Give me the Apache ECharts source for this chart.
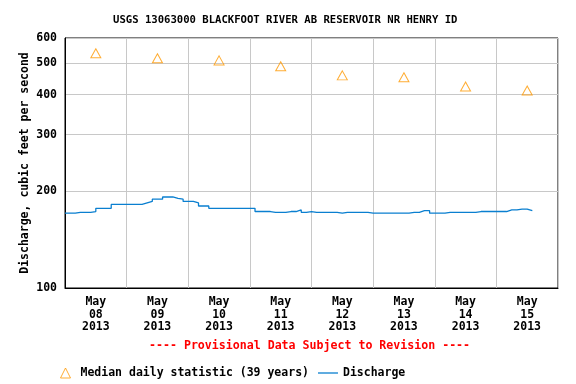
<!DOCTYPE html>
<html><head><meta charset="utf-8">
<script src="https://cdn.jsdelivr.net/npm/echarts@6/dist/echarts.min.js"></script>
<style>html,body{margin:0;padding:0;background:#fff}#c{width:576px;height:384px}</style>
</head><body><div id="c"></div>
<script>
const titleText = 'USGS 13063000 BLACKFOOT RIVER AB RESERVOIR NR HENRY ID';
const dayLabels = ['May\n08\n2013','May\n09\n2013','May\n10\n2013','May\n11\n2013','May\n12\n2013','May\n13\n2013','May\n14\n2013','May\n15\n2013'];
const yTicks = [100, 200, 300, 400, 500, 600];
// hours since May 08 00:00 for median points (noon each day)
const medianHours = [12, 36, 60, 84, 108, 132, 156, 180];
const medianValues = [538, 519, 511, 490, 459, 453, 424, 412];
// discharge sampled every 2 hours from May 08 00:00
const stepHours = 2;
const dischargeValues = [
  171,171,172,172,172,173,177,177,177,182,182,182,
  182,182,182,184,186,189,189,192,192,190,189,186,
  186,184,180,180,177,177,177,177,177,177,177,177,
  177,173,173,173,172,172,172,173,173,175,172,173,
  172,172,172,172,172,171,172,172,172,172,172,171,
  171,171,171,171,171,171,171,172,172,174,174,171,
  171,171,172,172,172,172,172,172,173,173,173,173,
  173,173,175,175,176,176,174,174
];
const FONT = '"DejaVu Sans Mono", monospace';
const chart = echarts.init(document.getElementById('c'));
chart.setOption({
  animation: false,
  title: { text: titleText, left: 108, top: 10,
    textStyle: { fontFamily: FONT, fontWeight: 'bold', fontSize: 10.6, color: '#000' } },
  grid: { left: 65, right: 18, top: 38, bottom: 96, show: true, borderColor: '#000', borderWidth: 1, backgroundColor: 'transparent' },
  legend: {
    left: 55, top: 362, itemWidth: 20, itemHeight: 10, itemGap: 9,
    textStyle: { fontFamily: FONT, fontWeight: 'bold', fontSize: 11.5, color: '#000' },
    data: [
      { name: 'Median daily statistic (39 years)', icon: 'path://M5,0L10,10L0,10Z',
        itemStyle: { color: 'transparent', borderColor: '#ff9900', borderWidth: 1 } },
      { name: 'Discharge', icon: 'path://M0,0H20V1.3H0Z',
        itemStyle: { color: '#0a7fd0', borderWidth: 0 } }
    ]
  },
  graphic: [{ type: 'text', left: 149, top: 340,
    style: { text: '---- Provisional Data Subject to Revision ----', fill: '#ff0000',
      font: 'bold 11.6px ' + FONT } }],
  xAxis: {
    type: 'value', min: 0, max: 192, interval: 24,
    axisLine: { show: true, lineStyle: { color: '#000' } },
    axisTick: { show: false },
    splitLine: { show: true, lineStyle: { color: '#c8c8c8', width: 1 } },
    axisLabel: { customValues: medianHours, margin: 8, lineHeight: 12.5,
      fontFamily: FONT, fontWeight: 'bold', fontSize: 11.5, color: '#000',
      formatter: v => dayLabels[medianHours.indexOf(v)] || '' }
  },
  yAxis: {
    type: 'log', logBase: 10, min: 100, max: 600,
    name: 'Discharge, cubic feet per second', nameLocation: 'middle', nameGap: 34,
    nameMoveOverlap: false,
    nameTextStyle: { fontFamily: FONT, fontWeight: 'bold', fontSize: 11.5, color: '#000' },
    axisLine: { show: true, lineStyle: { color: '#000' } },
    axisTick: { show: false, customValues: yTicks },
    splitLine: { show: true, lineStyle: { color: '#c8c8c8', width: 1 } },
    axisLabel: { customValues: yTicks, margin: 8,
      fontFamily: FONT, fontWeight: 'bold', fontSize: 11.5, color: '#000' }
  },
  series: [
    { name: 'Median daily statistic (39 years)', type: 'scatter', symbol: 'triangle', symbolSize: [10, 9],
      itemStyle: { color: 'transparent', borderColor: '#ff9900', borderWidth: 1 },
      data: medianHours.map((h, i) => [h, medianValues[i]]) },
    { name: 'Discharge', type: 'line', symbol: 'none', step: 'end',
      lineStyle: { color: '#0a7fd0', width: 1.3 }, itemStyle: { color: '#0a7fd0' },
      data: dischargeValues.map((v, i) => [i * stepHours, v]) }
  ]
});
</script></body></html>
